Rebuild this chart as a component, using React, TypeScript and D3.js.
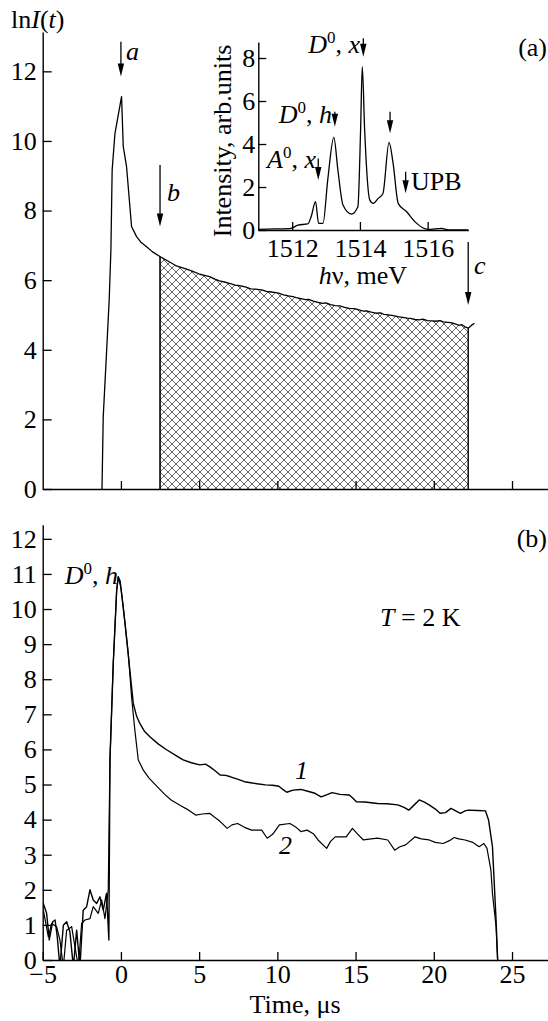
import React, { useEffect, useRef } from "react";
import * as d3 from "d3";

const FONT = "'Liberation Serif', 'Times New Roman', Times, serif";

// ---------- Panel (a): ln I(t) decay ----------
const topTime = [
  -1.21, -1.13, -0.91, -0.75, -0.64, -0.56, -0.38, 0.04, 0.15, 0.36, 0.68, 1.0, 1.3, 1.64, 2.0, 2.49,
  3.0, 3.5, 4.2, 4.6, 5.04, 5.4, 5.67, 6.0, 6.3, 6.7, 7.0, 7.3, 7.6, 8.0, 8.3, 8.6, 9.0, 9.3, 9.6, 9.9,
  10.13, 10.4, 10.7, 11.0, 11.2, 11.5, 11.8, 12.0, 12.3, 12.6, 12.9, 13.1, 13.4, 13.7, 14.0, 14.3, 14.6,
  14.9, 15.2, 15.5, 15.7, 16.0, 16.3, 16.6, 16.8, 17.1, 17.4, 17.7, 18.0, 18.3, 18.5, 18.8, 19.07, 19.3,
  19.6, 19.9, 20.1, 20.4, 20.6, 20.9, 21.1, 21.4, 21.6, 21.8, 22.0, 22.2, 22.4, 22.6,
];
const topLnI = [
  0, 2.08, 4.0, 5.43, 6.87, 9.17, 10.22, 11.27, 9.84, 9.26, 7.54, 7.25, 7.08, 6.96, 6.82, 6.68,
  6.55, 6.42, 6.32, 6.25, 6.17, 6.13, 6.1, 6.03, 5.98, 5.94, 5.9, 5.86, 5.84, 5.8, 5.75, 5.74, 5.72, 5.68, 5.66, 5.64,
  5.62, 5.58, 5.55, 5.53, 5.5, 5.47, 5.44, 5.45, 5.4, 5.36, 5.33, 5.35, 5.3, 5.27, 5.26, 5.22, 5.19,
  5.18, 5.15, 5.11, 5.12, 5.08, 5.05, 5.06, 5.02, 5.0, 4.98, 4.95, 4.93, 4.91, 4.9, 4.87, 4.86, 4.88,
  4.84, 4.83, 4.82, 4.84, 4.8, 4.79, 4.78, 4.74, 4.7, 4.72, 4.66, 4.62, 4.7, 4.76,
];
const hatchStart = 2.5;
const hatchEnd = 22.2;

// arrows: [time, lnI top, lnI tip]
const topArrowTime = [0, 2.5, 22.2];
const topArrowFrom = [12.85, 9.31, 7.1];
const topArrowTo = [11.85, 7.54, 5.29];

// ---------- Inset: PL spectrum ----------
const specEnergy = [
  1511.0, 1511.5, 1511.97, 1512.17, 1512.46, 1512.56, 1512.69, 1512.78, 1512.91, 1513.05, 1513.23,
  1513.35, 1513.5, 1513.75, 1513.94, 1514.02, 1514.07, 1514.14, 1514.29, 1514.39, 1514.54, 1514.68,
  1514.86, 1514.98, 1515.13, 1515.38, 1515.62, 1516.02, 1516.41, 1516.61, 1517.2,
];
const specIntensity = [
  0.03, 0.05, 0.08, 0.23, 0.28, 0.62, 1.32, 0.31, 0.31, 2.33, 4.31,
  2.79, 1.16, 0.74, 1.08, 4.65, 7.6, 4.65, 1.4, 1.24, 1.47, 1.7,
  4.08, 3.1, 1.24, 0.85, 0.39, 0.03, 0.08, 0, 0,
];
const specArrowEnergy = [1512.77, 1513.26, 1514.1, 1514.89, 1515.35];
const specArrowFrom = [3.33, 5.5, 8.92, 5.5, 2.71];
const specArrowTo = [2.33, 4.8, 8.06, 4.5, 1.71];

// ---------- Panel (b): curves 1 and 2 ----------
const curve1Time = [
  -4.96, -4.75, -4.58, -4.36, -4.21, -4.07, -3.9, -3.68, -3.47, -3.26, -3.04, -2.83, -2.62, -2.41,
  -2.19, -1.98, -1.77, -1.55, -1.34, -1.13, -0.92, -0.77, -0.7, -0.49, -0.27, -0.17, -0.05, 0.04,
  0.26, 0.57, 0.79, 1.0, 1.21, 1.5, 1.85, 2.4, 2.92, 3.5, 3.98, 4.5, 5.04, 5.4, 5.67, 6.0, 6.34,
  6.7, 7.0, 7.4, 7.9, 8.3, 8.7, 9.24, 9.7, 10.1, 10.35, 10.6, 11.0, 11.5, 12.0, 12.4, 12.8, 13.1,
  13.5, 14.0, 14.6, 14.85, 15.05, 15.6, 16.0, 16.4, 17.0, 17.7, 18.1, 18.4, 18.75, 19.07, 19.4,
  19.7, 20.1, 20.4, 20.75, 21.1, 21.4, 21.7, 22.0, 22.2, 22.8, 23.3, 23.5, 23.75, 23.98, 24.1,
];
const curve1LnI = [
  1.61, 1.33, 0.57, 1.09, 1.14, 0.66, -0.2, 0.99, 1.09, 0.8, -0.2, 0.85, -0.2, 1.42,
  1.52, 2.0, 1.71, 1.61, 1.8, 1.42, 1.9, 0.57, 5.7, 8.45, 10.54, 10.92, 10.8, 10.45,
  9.59, 8.26, 7.31, 6.95, 6.74, 6.52, 6.36, 6.15, 5.99, 5.83, 5.7, 5.62, 5.56, 5.58, 5.51, 5.4, 5.27,
  5.26, 5.22, 5.16, 5.08, 5.05, 5.02, 4.99, 4.98, 4.95, 4.86, 4.78, 4.84, 4.86, 4.8, 4.75, 4.65, 4.7,
  4.77, 4.72, 4.7, 4.6, 4.51, 4.5, 4.48, 4.46, 4.45, 4.42, 4.35, 4.27, 4.42, 4.56, 4.5,
  4.42, 4.3, 4.18, 4.2, 4.32, 4.25, 4.18, 4.25, 4.27, 4.26, 4.25, 3.99, 3.23, 1.14, -0.2,
];
const curve2Time = [
  -4.96, -4.64, -4.43, -4.11, -3.9, -3.68, -3.47, -3.15, -2.94, -2.72, -2.51, -2.3, -1.98, -1.77,
  -1.45, -1.23, -1.02, -0.81, -0.7, -0.49, -0.27, -0.17, 0.0, 0.15, 0.47, 0.68, 0.89, 1.11, 1.43,
  1.8, 2.32, 2.8, 3.21, 3.8, 4.33, 4.78, 5.2, 5.67, 5.95, 6.23, 6.5, 6.79, 7.1, 7.46, 7.9, 8.35,
  9.0, 9.35, 9.7, 10.13, 10.8, 11.2, 11.5, 11.9, 12.3, 12.6, 13.15, 13.4, 13.7, 14.4, 14.8, 15.1,
  15.5, 16.0, 16.4, 17.06, 17.5, 17.8, 18.2, 18.8, 19.2, 19.7, 20.1, 20.6, 21.0, 21.3, 21.6, 22.0,
  22.5, 22.9, 23.2, 23.4, 23.65, 23.75, 23.98, 24.1,
];
const curve2LnI = [
  1.42, 0.66, 1.04, 0.95, 0.57, -0.2, 0.85, 0.95, 0.38, -0.2, 1.04, 1.14, 1.18, 1.52,
  1.33, 1.71, 1.18, 2.0, 5.7, 8.45, 10.54, 10.92, 10.6, 10.07, 8.74, 7.5, 6.55, 5.7, 5.41,
  5.18, 4.94, 4.72, 4.56, 4.4, 4.27, 4.13, 4.16, 4.18, 4.08, 3.99, 3.88, 3.75, 3.85, 3.89, 3.78, 3.7,
  3.7, 3.47, 3.58, 3.85, 3.89, 3.78, 3.66, 3.7, 3.6, 3.42, 3.18, 3.38, 3.51, 3.51, 3.75, 3.6,
  3.42, 3.45, 3.47, 3.42, 3.13, 3.22, 3.28, 3.51, 3.45, 3.42, 3.35, 3.32, 3.4, 3.49, 3.45, 3.42,
  3.35, 3.23, 3.32, 3.18, 2.56, 1.9, 0.95, -0.2,
];

// ---------- Ticks ----------
const timeTicksA = [0, 5, 10, 15, 20, 25];
const timeTicksB = [-5, 0, 5, 10, 15, 20, 25];
const lnTicksA = [0, 2, 4, 6, 8, 10, 12];
const lnTicksB = [0, 1, 2, 3, 4, 5, 6, 7, 8, 9, 10, 11, 12];
const specETicks = [1512, 1514, 1516];
const specITicks = [0, 2, 4, 6, 8];

const W = 548;
const H = 1021;
const FS = 26;
const SUP = 17;

const xA = d3.scaleLinear().domain([-5, 27.3]).range([42.7, 548]);
const yA = d3.scaleLinear().domain([0, 13.13]).range([489, 32]);
const xB = d3.scaleLinear().domain([-5, 27.3]).range([42.7, 548]);
const yB = d3.scaleLinear().domain([0, 12.4]).range([960, 524.8]);
const xS = d3.scaleLinear().domain([1511, 1517.2]).range([258.3, 468.3]);
const yS = d3.scaleLinear().domain([0, 8.75]).range([230, 41.9]);

function zip(a: number[], b: number[]): [number, number][] {
  return a.map((v, i) => [v, b[i]] as [number, number]);
}

function Arrow({ x, y1, y2 }: { x: number; y1: number; y2: number }) {
  const head = 13;
  const hw = 3.2;
  return (
    <g>
      <line x1={x} y1={y1} x2={x} y2={y2 - head + 2} stroke="#000" strokeWidth={1.3} />
      <path d={`M${x - hw},${y2 - head} L${x + hw},${y2 - head} L${x},${y2} Z`} fill="#000" />
    </g>
  );
}

export default function App() {
  const axA_x = useRef<SVGGElement>(null);
  const axA_y = useRef<SVGGElement>(null);
  const axB_x = useRef<SVGGElement>(null);
  const axB_y = useRef<SVGGElement>(null);
  const axS_x = useRef<SVGGElement>(null);
  const axS_y = useRef<SVGGElement>(null);

  useEffect(() => {
    const style = (g: any) => {
      g.attr("font-size", FS).attr("font-family", FONT);
      g.selectAll("text")
        .attr("font-family", FONT)
        .attr("font-size", FS)
        .style("font-family", FONT)
        .attr("fill", "#000");
      g.selectAll("path.domain").attr("stroke-width", 1.4).attr("stroke", "#000");
      g.selectAll(".tick line").attr("stroke-width", 1.3).attr("stroke", "#000");
    };
    const fmt = (d: d3.NumberValue) => String(d as number).replace("-", "\u2212");
    style(
      d3.select(axA_x.current!).call(
        d3.axisBottom(xA).tickValues(timeTicksA).tickSize(-8).tickSizeOuter(0).tickFormat(() => "")
      )
    );
    style(
      d3.select(axA_y.current!).call(
        d3.axisLeft(yA).tickValues(lnTicksA).tickSize(-9).tickSizeOuter(0).tickPadding(6).tickFormat(fmt)
      )
    );
    style(
      d3.select(axB_x.current!).call(
        d3.axisBottom(xB).tickValues(timeTicksB).tickSize(-8).tickSizeOuter(0).tickPadding(5).tickFormat(fmt)
      )
    );
    style(
      d3.select(axB_y.current!).call(
        d3.axisLeft(yB).tickValues(lnTicksB).tickSize(-9).tickSizeOuter(0).tickPadding(6).tickFormat(fmt)
      )
    );
    style(
      d3.select(axS_x.current!).call(
        d3.axisBottom(xS).tickValues(specETicks).tickSize(-8).tickSizeOuter(0).tickPadding(9).tickFormat(fmt)
      )
    );
    style(
      d3.select(axS_y.current!).call(
        d3.axisLeft(yS).tickValues(specITicks).tickSize(-8).tickSizeOuter(0).tickPadding(3).tickFormat(fmt)
      )
    );
  }, []);

  const topPts = zip(topTime, topLnI);
  const lineA = d3.line<[number, number]>().x((d) => xA(d[0])).y((d) => yA(d[1]));
  const interp = d3.scaleLinear().domain(topTime).range(topLnI);
  const hatchPts: [number, number][] = [
    [hatchStart, interp(hatchStart)],
    ...topPts.filter((p) => p[0] > hatchStart && p[0] < hatchEnd),
    [hatchEnd, interp(hatchEnd)],
  ];
  const areaA = d3
    .area<[number, number]>()
    .x((d) => xA(d[0]))
    .y0(yA(0))
    .y1((d) => yA(d[1]));

  const lineS = d3.line<[number, number]>().x((d) => xS(d[0])).y((d) => yS(d[1])).curve(d3.curveMonotoneX);
  const lineB = d3.line<[number, number]>().x((d) => xB(d[0])).y((d) => yB(d[1]));

  const it = { fontStyle: "italic" as const };

  return (
    <svg
      width={W}
      height={H}
      viewBox={`0 0 ${W} ${H}`}
      style={{ position: "absolute", left: 0, top: 0, background: "#fff", fontFamily: FONT }}
      fontFamily={FONT}
      fontSize={FS}
    >
      <defs>
        <pattern id="xhatch" patternUnits="userSpaceOnUse" width={8} height={8}>
          <path d="M0,0 L8,8 M8,0 L0,8" stroke="#555" strokeWidth={0.9} />
        </pattern>
        <clipPath id="clipB">
          <rect x={42.7} y={520} width={W - 42.7} height={960 - 520} />
        </clipPath>
      </defs>
      <rect x={0} y={0} width={W} height={H} fill="#fff" />

      {/* ---------- Panel (a) ---------- */}
      <path d={areaA(hatchPts) || ""} fill="url(#xhatch)" stroke="none" />
      <line x1={xA(hatchStart)} x2={xA(hatchStart)} y1={yA(0)} y2={yA(interp(hatchStart))} stroke="#000" strokeWidth={1.6} />
      <line x1={xA(hatchEnd)} x2={xA(hatchEnd)} y1={yA(0)} y2={yA(interp(hatchEnd))} stroke="#000" strokeWidth={1.4} />
      <path d={lineA(topPts) || ""} fill="none" stroke="#000" strokeWidth={1.3} strokeLinejoin="round" />
      <g ref={axA_x} transform={`translate(0,${yA(0)})`} />
      <g ref={axA_y} transform={`translate(${xA(-5)},0)`} />
      {topArrowTime.map((t, i) => (
        <Arrow key={i} x={xA(t)} y1={yA(topArrowFrom[i])} y2={yA(topArrowTo[i])} />
      ))}
      <text x={126} y={60} style={it}>a</text>
      <text x={167} y={201} style={it}>b</text>
      <text x={474} y={274} style={it}>c</text>
      <text x={11} y={28}>
        ln<tspan style={it}>I</tspan>(<tspan style={it}>t</tspan>)
      </text>
      <text x={547} y={56} textAnchor="end">(a)</text>

      {/* ---------- Inset ---------- */}
      <path d={lineS(zip(specEnergy, specIntensity)) || ""} fill="none" stroke="#000" strokeWidth={1.3} />
      <g ref={axS_x} transform={`translate(0,${yS(0)})`} />
      <g ref={axS_y} transform={`translate(${xS(1511)},0)`} />
      {specArrowEnergy.map((e, i) => (
        <Arrow key={i} x={xS(e)} y1={yS(specArrowFrom[i])} y2={yS(specArrowTo[i])} />
      ))}
      <text x={360} y={53} textAnchor="end">
        <tspan style={it}>D</tspan>
        <tspan dy={-10} fontSize={SUP}>0</tspan>
        <tspan dy={10}>, </tspan>
        <tspan style={it}>x</tspan>
      </text>
      <text x={332} y={123} textAnchor="end">
        <tspan style={it}>D</tspan>
        <tspan dy={-10} fontSize={SUP}>0</tspan>
        <tspan dy={10}>, </tspan>
        <tspan style={it}>h</tspan>
      </text>
      <text x={316} y={168} textAnchor="end">
        <tspan style={it}>A</tspan>
        <tspan dy={-10} fontSize={SUP}>0</tspan>
        <tspan dy={10}>, </tspan>
        <tspan style={it}>x</tspan>
      </text>
      <text x={411} y={190}>UPB</text>
      <text x={363} y={284} textAnchor="middle">
        <tspan style={it}>h</tspan>ν, meV
      </text>
      <text transform="translate(231,141) rotate(-90)" textAnchor="middle">
        Intensity, arb.units
      </text>

      {/* ---------- Panel (b) ---------- */}
      <g clipPath="url(#clipB)">
        <path d={lineB(zip(curve2Time, curve2LnI)) || ""} fill="none" stroke="#000" strokeWidth={1.2} strokeLinejoin="round" />
        <path d={lineB(zip(curve1Time, curve1LnI)) || ""} fill="none" stroke="#000" strokeWidth={1.4} strokeLinejoin="round" />
      </g>
      <g ref={axB_x} transform={`translate(0,${yB(0)})`} />
      <g ref={axB_y} transform={`translate(${xB(-5)},0)`} />
      <text x={547} y={547} textAnchor="end">(b)</text>
      <text x={118} y={584} textAnchor="end">
        <tspan style={it}>D</tspan>
        <tspan dy={-10} fontSize={SUP}>0</tspan>
        <tspan dy={10}>, </tspan>
        <tspan style={it}>h</tspan>
      </text>
      <text x={380} y={626}>
        <tspan style={it}>T</tspan> = 2 K
      </text>
      <text x={295} y={779} style={it}>1</text>
      <text x={279} y={854} style={it}>2</text>
      <text x={295} y={1013} textAnchor="middle">Time, μs</text>
    </svg>
  );
}
